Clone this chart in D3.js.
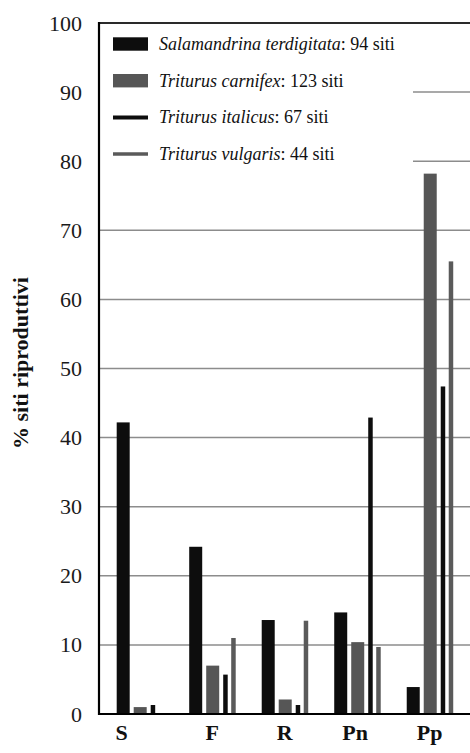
<!DOCTYPE html>
<html>
<head>
<meta charset="utf-8">
<script src="https://cdn.jsdelivr.net/npm/d3@7"></script>
<style>
  body { margin: 0; background: #fff; }
  svg { display: block; font-family: 'Liberation Serif', 'DejaVu Serif', serif; }
</style>
</head>
<body>
<svg id="chart"></svg>
<script>
// ------------------
// Data
// ------------------
const categories = ['S', 'F', 'R', 'Pn', 'Pp']
const salamandrina = [42.2, 24.2, 13.6, 14.7, 3.9]
const carnifex = [1.0, 7.0, 2.1, 10.4, 78.2]
const italicus = [1.3, 5.7, 1.3, 42.9, 47.4]
const vulgaris = [0, 11.0, 13.5, 9.7, 65.5]
const yTicks = [0, 10, 20, 30, 40, 50, 60, 70, 80, 90, 100]

const seriesNames = ['Salamandrina terdigitata', 'Triturus carnifex', 'Triturus italicus', 'Triturus vulgaris']
const seriesSites = [94, 123, 67, 44]
const seriesValues = [salamandrina, carnifex, italicus, vulgaris]

// styles per series (offset inside group, bar width, colour)
const seriesStyle = [
  { dx: 0, w: 13, color: '#0d0d0d' },
  { dx: 17, w: 13, color: '#565656' },
  { dx: 34, w: 4.5, color: '#0d0d0d' },
  { dx: 42, w: 4.5, color: '#5a5a5a' }
]
const labelNudge = { S: -18, Pn: -2 }

const width = 470
const height = 753
const serif = "'Liberation Serif', 'DejaVu Serif', serif"

const svg = d3.select('#chart')
  .attr('width', width)
  .attr('height', height)

// ------------------
// Scales
// ------------------
const x = d3.scaleBand()
  .domain(categories)
  .range([116.7, 452.7])
  .paddingInner(0.366)
  .paddingOuter(0)
  .align(0)

const y = d3.scaleLinear()
  .domain([0, 100])
  .range([714, 23])

const axisX = 99

// ------------------
// Gridlines
// ------------------
svg.append('g')
  .selectAll('line')
  .data(yTicks.filter(d => d > 0 && d < 100))
  .enter()
  .append('line')
  .attr('x1', axisX)
  .attr('x2', width)
  .attr('y1', d => y(d))
  .attr('y2', d => y(d))
  .attr('stroke', '#8c8c8c')
  .attr('stroke-width', 1.5)

// top frame line
svg.append('line')
  .attr('x1', axisX)
  .attr('x2', width)
  .attr('y1', y(100))
  .attr('y2', y(100))
  .attr('stroke', '#2a2a2a')
  .attr('stroke-width', 2)

// ------------------
// Legend box (covers gridlines)
// ------------------
svg.append('rect')
  .attr('x', axisX + 1)
  .attr('y', y(100) + 1)
  .attr('width', 413 - axisX - 1)
  .attr('height', 165)
  .attr('fill', '#fff')

const legend = svg.append('g')
  .attr('transform', 'translate(113, 44)')

seriesNames.forEach((name, i) => {
  const row = legend.append('g').attr('transform', `translate(0, ${i * 36.7})`)
  if (i < 2) {
    row.append('rect')
      .attr('x', 0)
      .attr('y', -6.7)
      .attr('width', 35)
      .attr('height', 13.4)
      .attr('fill', seriesStyle[i].color)
  } else {
    row.append('line')
      .attr('x1', 0)
      .attr('x2', 35)
      .attr('y1', 0)
      .attr('y2', 0)
      .attr('stroke', seriesStyle[i].color)
      .attr('stroke-width', i === 2 ? 4 : 3.5)
  }
  const t = row.append('text')
    .attr('x', 46)
    .attr('y', 6)
    .attr('font-family', serif)
    .attr('font-size', 18)
    .attr('fill', '#111')
  t.append('tspan').attr('font-style', 'italic').text(name)
  t.append('tspan').text(`: ${seriesSites[i]} siti`)
})

// ------------------
// Bars
// ------------------
seriesValues.forEach((vals, s) => {
  const st = seriesStyle[s]
  svg.append('g')
    .selectAll('rect')
    .data(categories.map((c, i) => ({ cat: c, value: vals[i] })))
    .enter()
    .append('rect')
    .attr('x', d => x(d.cat) + st.dx)
    .attr('y', d => y(d.value))
    .attr('width', st.w)
    .attr('height', d => y(0) - y(d.value))
    .attr('fill', st.color)
})

// ------------------
// Axes
// ------------------
const yAxis = svg.append('g')
  .attr('transform', `translate(${axisX},0)`)
  .call(d3.axisLeft(y).tickValues(yTicks).tickSize(0).tickPadding(17))
yAxis.attr('font-family', serif).attr('font-size', 22)
yAxis.select('.domain').remove()
yAxis.selectAll('text')
  .attr('font-family', serif)
  .attr('font-size', 22)
  .attr('fill', '#1a1a1a')

svg.append('line')
  .attr('x1', axisX)
  .attr('x2', axisX)
  .attr('y1', y(100) - 1)
  .attr('y2', y(0) + 1)
  .attr('stroke', '#000')
  .attr('stroke-width', 2.2)

svg.append('line')
  .attr('x1', axisX)
  .attr('x2', width)
  .attr('y1', y(0))
  .attr('y2', y(0))
  .attr('stroke', '#000')
  .attr('stroke-width', 2.2)

// category labels
svg.append('g')
  .selectAll('text')
  .data(categories)
  .enter()
  .append('text')
  .attr('x', d => x(d) + x.bandwidth() / 2 + (labelNudge[d] || 0))
  .attr('y', 740)
  .attr('text-anchor', 'middle')
  .attr('font-family', serif)
  .attr('font-weight', 'bold')
  .attr('font-size', 22)
  .attr('fill', '#111')
  .text(d => d)

// y title
svg.append('text')
  .attr('transform', 'translate(28, 363) rotate(-90)')
  .attr('text-anchor', 'middle')
  .attr('font-family', serif)
  .attr('font-weight', 'bold')
  .attr('font-size', 22)
  .attr('fill', '#111')
  .text('% siti riproduttivi')
</script>
</body>
</html>
